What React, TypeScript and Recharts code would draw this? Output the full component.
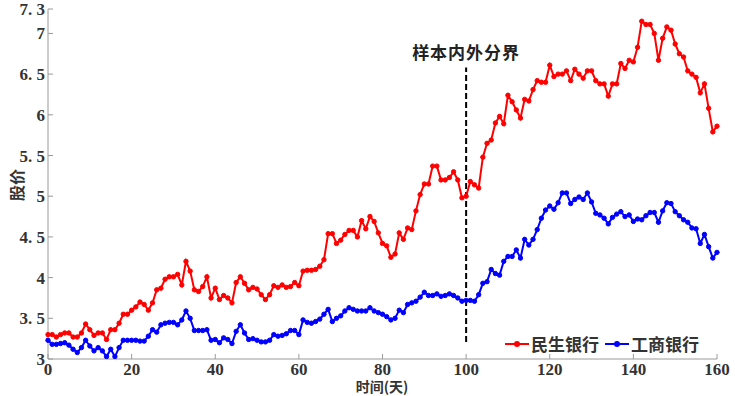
import { LineChart, Line, XAxis, YAxis, ReferenceLine, ReferenceDot, Legend, Label } from "recharts";

// 民生银行 daily close, days 0..160
const minsheng = [
  3.3, 3.3, 3.27, 3.3, 3.32, 3.32, 3.27, 3.27, 3.32, 3.43,
  3.36, 3.29, 3.32, 3.32, 3.24, 3.36, 3.36, 3.44, 3.55, 3.55,
  3.6, 3.64, 3.7, 3.67, 3.6, 3.69, 3.85, 3.87, 3.98, 4.01,
  4.01, 4.04, 3.91, 4.2, 4.08, 3.85, 3.83, 3.89, 4.01, 3.75,
  3.87, 3.73, 3.78, 3.75, 3.69, 3.94, 4.01, 3.93, 3.85, 3.88,
  3.86, 3.79, 3.73, 3.79, 3.9, 3.88, 3.91, 3.88, 3.89, 3.94,
  3.9, 4.08, 4.09, 4.09, 4.1, 4.14, 4.22, 4.54, 4.54, 4.42,
  4.46, 4.53, 4.58, 4.58, 4.5, 4.7, 4.6, 4.75, 4.69, 4.55,
  4.42, 4.39, 4.25, 4.29, 4.55, 4.47, 4.61, 4.59, 4.82, 5.02,
  5.15, 5.15, 5.37, 5.37, 5.2, 5.2, 5.23, 5.3, 5.2, 4.98,
  5.0, 5.18, 5.14, 5.1, 5.48, 5.65, 5.69, 5.9, 5.98, 5.89,
  6.24, 6.16, 6.06, 5.96, 6.19, 6.17, 6.31, 6.42, 6.4, 6.4,
  6.61, 6.47, 6.5, 6.5, 6.54, 6.42, 6.56, 6.5, 6.45, 6.54,
  6.54, 6.42, 6.38, 6.38, 6.23, 6.38, 6.38, 6.63, 6.57, 6.67,
  6.65, 6.83, 7.15, 7.11, 7.11, 7.0, 6.67, 6.94, 7.08, 7.04,
  6.87, 6.75, 6.71, 6.54, 6.5, 6.46, 6.27, 6.38, 6.08, 5.79,
  5.86,
];

// 工商银行 daily close, days 0..160
const gongshang = [
  3.23, 3.18, 3.18, 3.19, 3.2, 3.17, 3.12, 3.08, 3.14, 3.23,
  3.16, 3.1, 3.14, 3.1, 3.03, 3.12, 3.03, 3.14, 3.23, 3.23,
  3.23, 3.23, 3.22, 3.22, 3.28, 3.36, 3.33, 3.42, 3.44, 3.45,
  3.45, 3.42, 3.48, 3.59, 3.5, 3.35, 3.35, 3.35, 3.36, 3.23,
  3.24, 3.2, 3.26, 3.24, 3.19, 3.34, 3.42, 3.32, 3.24, 3.25,
  3.23, 3.21, 3.21, 3.23, 3.3, 3.28, 3.29, 3.31, 3.35, 3.35,
  3.3, 3.48, 3.45, 3.44, 3.46, 3.49, 3.55, 3.61, 3.46, 3.5,
  3.53, 3.59, 3.63, 3.61, 3.59, 3.59, 3.59, 3.63, 3.59, 3.57,
  3.55, 3.52, 3.48, 3.5, 3.6, 3.57, 3.67, 3.69, 3.71, 3.76,
  3.82, 3.78, 3.78, 3.8, 3.77, 3.78, 3.8, 3.78, 3.75, 3.71,
  3.72, 3.72, 3.71, 3.79, 3.93, 3.95, 4.1, 4.05, 4.03, 4.2,
  4.26, 4.26, 4.34, 4.24, 4.47, 4.4, 4.47, 4.59, 4.73, 4.83,
  4.88, 4.84, 4.92, 5.04, 5.04, 4.91, 4.96, 4.99, 4.96, 5.04,
  4.93, 4.79, 4.77, 4.73, 4.66, 4.74, 4.78, 4.81, 4.75, 4.77,
  4.69, 4.72, 4.71, 4.76, 4.8, 4.8, 4.68, 4.82, 4.92, 4.91,
  4.81, 4.76, 4.71, 4.68, 4.61, 4.6, 4.42, 4.53, 4.38, 4.24,
  4.31,
];

const xTicks = [0, 20, 40, 60, 80, 100, 120, 140, 160];
const yTicks = [3, 3.5, 4, 4.5, 5, 5.5, 6, 6.5, 7, 7.3];
const splitDay = 100;
const splitRange = [3.21, 6.58];

const data = minsheng.map((v, i) => ({ day: i, minsheng: v, gongshang: gongshang[i] }));

const RED = "#ff0000";
const BLUE = "#0000ff";
const AXIS = "#9a9a9a";
const tickFont = { fontFamily: "'Liberation Serif', serif", fontWeight: 700, fontSize: 17, fill: "#333" };
const cjkFont = "'Noto Sans CJK SC', sans-serif";

const fmtY = (v: number) => {
  const s = String(v);
  return s.includes(".") ? s.replace(".", ". ") : s;
};

const XTick = ({ x, y, payload }: any) => (
  <g>
    <line x1={x} y1={y} x2={x} y2={y - 5} stroke={AXIS} />
    <text x={x} y={y + 16} textAnchor="middle" {...tickFont}>
      {payload.value}
    </text>
  </g>
);

const YTick = ({ x, y, payload }: any) => (
  <g>
    <line x1={x} y1={y} x2={x + 5} y2={y} stroke={AXIS} />
    <text x={x - 3} y={y + 6} textAnchor="end" {...tickFont}>
      {fmtY(payload.value)}
    </text>
  </g>
);

const LegendIcon = ({ color }: { color: string }) => (
  <svg width={24} height={10} style={{ marginRight: 2 }}>
    <line x1={0} y1={5} x2={24} y2={5} stroke={color} strokeWidth={2} />
    <circle cx={12} cy={5} r={3} fill={color} />
  </svg>
);

const renderLegend = () => (
  <div style={{ display: "flex", alignItems: "center", fontFamily: cjkFont, fontSize: 17, fontWeight: 700, color: "#333", lineHeight: "20px" }}>
    <LegendIcon color={RED} />
    <span style={{ marginRight: 6 }}>民生银行</span>
    <LegendIcon color={BLUE} />
    <span>工商银行</span>
  </div>
);

export default function App() {
  return (
    <div style={{ position: "absolute", left: 0, top: 0, background: "#fff" }}>
      <LineChart width={735} height={396} data={data} margin={{ top: 9, right: 18, bottom: 0, left: 8 }}>
        <XAxis
          dataKey="day"
          type="number"
          domain={[0, 160]}
          ticks={xTicks}
          tickSize={0}
          tickMargin={0}
          height={37}
          stroke={AXIS}
          tick={<XTick />}
          interval={0}
        >
          <Label
            content={() => (
              <text
                x={382}
                y={392}
                textAnchor="middle"
                style={{ fontFamily: cjkFont, fontSize: 14, fontWeight: 700, fill: "#333" }}
              >
                时间(天)
              </text>
            )}
          />
        </XAxis>
        <YAxis
          type="number"
          domain={[3, 7.3]}
          ticks={yTicks}
          tickSize={0}
          tickMargin={0}
          width={40}
          stroke={AXIS}
          tick={<YTick />}
          interval={0}
          allowDataOverflow
        >
          <Label
            content={() => (
              <text
                x={16}
                y={185}
                transform="rotate(-90 16 185)"
                textAnchor="middle"
                dominantBaseline="central"
                style={{ fontFamily: cjkFont, fontSize: 16, fontWeight: 700, fill: "#333" }}
              >
                股价
              </text>
            )}
          />
        </YAxis>
        <ReferenceLine
          segment={[
            { x: splitDay, y: splitRange[0] },
            { x: splitDay, y: splitRange[1] },
          ]}
          stroke="#000"
          strokeWidth={2}
          strokeDasharray="6 3"
        />
        <ReferenceDot
          x={splitDay}
          y={6.76}
          r={0}
          stroke="none"
          fill="none"
          label={{
            value: "样本内外分界",
            position: "center",
            style: { fontFamily: cjkFont, fontSize: 17, fontWeight: 700, fill: "#222", letterSpacing: 1 },
          }}
        />
        <Line
          type="linear"
          dataKey="minsheng"
          name="民生银行"
          stroke={RED}
          strokeWidth={2}
          dot={{ r: 2.2, fill: RED, stroke: RED, strokeWidth: 1 }}
          isAnimationActive={false}
        />
        <Line
          type="linear"
          dataKey="gongshang"
          name="工商银行"
          stroke={BLUE}
          strokeWidth={2}
          dot={{ r: 2.2, fill: BLUE, stroke: BLUE, strokeWidth: 1 }}
          isAnimationActive={false}
        />
        <Legend
          layout="vertical"
          align="center"
          verticalAlign="middle"
          content={renderLegend}
          wrapperStyle={{ left: 505, top: 334, width: 225, bottom: "auto", right: "auto" }}
        />
      </LineChart>
    </div>
  );
}
